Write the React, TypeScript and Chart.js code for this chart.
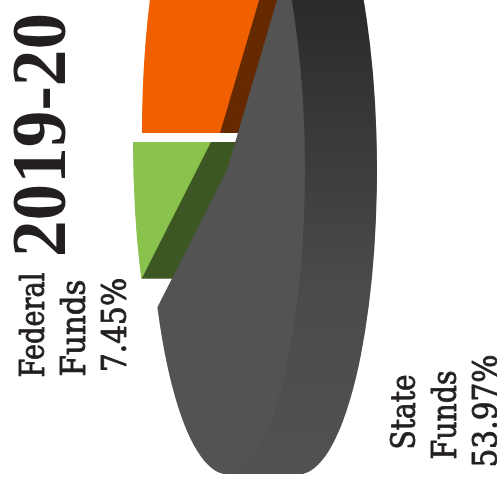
import React, { useEffect, useRef } from "react";
import { Chart, registerables } from "chart.js";

Chart.register(...registerables);

const chartTitle = "2019-20";
const fundingSources = ["Local Funds", "State Funds", "Federal Funds"];
const sharePercent = [38.58, 53.97, 7.45];
const faceColors = ["#F06000", "#535353", "#8AC24E"];
const wallColors = ["#662A00", "#2A2A2A", "#3D5823"];

// Tilted pie: semi-axes of the top face, depth of the side wall and the pie's centre.
const FACE_RX = 78;
const FACE_RY = 304;
const DEPTH = 72;
const CENTER_X = 227;
const CENTER_Y = 170;
// How far each slice is pulled away from the centre, in source order.
const PULL_X = [-7, 0, -16];
const PULL_Y = [-37, 0, -28];
// Slices are painted back to front; the state slice sits on top.
const PAINT_ORDER = [0, 2, 1];

const INK = "#231F20";

function sideText(
  ctx: CanvasRenderingContext2D,
  text: string,
  baselineX: number,
  centerY: number,
  length: number,
  font: string,
  weight: number,
) {
  ctx.save();
  ctx.font = font;
  ctx.fillStyle = INK;
  ctx.strokeStyle = INK;
  ctx.lineWidth = weight;
  ctx.lineJoin = "round";
  ctx.textAlign = "center";
  ctx.textBaseline = "alphabetic";
  ctx.translate(baselineX, centerY);
  ctx.rotate(-Math.PI / 2);
  ctx.scale(length / ctx.measureText(text).width, 1);
  ctx.fillText(text, 0, 0);
  if (weight > 0) ctx.strokeText(text, 0, 0);
  ctx.restore();
}

const tiltedPie = {
  id: "tiltedPie",
  beforeDatasetsDraw(chart: any) {
    const ctx: CanvasRenderingContext2D = chart.ctx;
    const arcs = chart.getDatasetMeta(0).data;
    for (const i of PAINT_ORDER) {
      const arc = arcs[i];
      const scaleX = FACE_RX / arc.outerRadius;
      const scaleY = FACE_RY / arc.outerRadius;
      const originX = CENTER_X + PULL_X[i];
      const originY = CENTER_Y + PULL_Y[i];
      const baseOptions = arc.options;

      let wallFill: string | CanvasGradient = wallColors[i];
      if (i === 1) {
        // The state slice's wall lightens towards the bottom of the pie.
        const toLocalY = (y: number) => arc.y + (y - originY) / scaleY;
        const shade = ctx.createLinearGradient(0, toLocalY(0), 0, toLocalY(474));
        shade.addColorStop(0, "#2A2A2A");
        shade.addColorStop(0.6, "#4A4A4A");
        shade.addColorStop(1, "#525252");
        wallFill = shade;
      }

      arc.options = { ...baseOptions, backgroundColor: wallFill };
      for (let d = DEPTH; d > 0; d -= 0.5) {
        ctx.save();
        ctx.translate(originX + d, originY);
        ctx.scale(scaleX, scaleY);
        ctx.translate(-arc.x, -arc.y);
        arc.draw(ctx);
        ctx.restore();
      }
      arc.options = baseOptions;

      ctx.save();
      ctx.translate(originX, originY);
      ctx.scale(scaleX, scaleY);
      ctx.translate(-arc.x, -arc.y);
      arc.draw(ctx);
      ctx.restore();
    }

    const labelFont = '34px "DejaVu Serif"';
    const [stateName, stateWord] = fundingSources[1].split(" ");
    const [federalName, federalWord] = fundingSources[2].split(" ");
    sideText(ctx, chartTitle, 65, 135, 244, 'bold 78px "Liberation Serif"', 0);
    sideText(ctx, federalName, 44, 325, 105, labelFont, 0.9);
    sideText(ctx, federalWord, 85, 328, 97, labelFont, 0.9);
    sideText(ctx, `${sharePercent[2].toFixed(2)}%`, 126, 325, 94, labelFont, 0.9);
    sideText(ctx, stateName, 415, 412, 75, labelFont, 0.9);
    sideText(ctx, stateWord, 456, 415, 89, labelFont, 0.9);
    sideText(ctx, `${sharePercent[1].toFixed(2)}%`, 497, 411, 113, labelFont, 0.9);
    return false;
  },
};

export default function App() {
  const canvasRef = useRef<HTMLCanvasElement | null>(null);

  useEffect(() => {
    const chart = new Chart(canvasRef.current!, {
      type: "pie",
      data: {
        labels: fundingSources,
        datasets: [
          {
            data: sharePercent,
            backgroundColor: faceColors,
            borderWidth: 0,
          },
        ],
      },
      options: {
        animation: false,
        responsive: false,
        devicePixelRatio: 1,
        rotation: 270,
        plugins: {
          legend: { display: false },
          tooltip: { enabled: false },
        },
      },
      plugins: [tiltedPie],
    } as any);
    return () => chart.destroy();
  }, []);

  return (
    <canvas
      ref={canvasRef}
      width={497}
      height={482}
      style={{ position: "absolute", left: 0, top: 0, display: "block" }}
    />
  );
}
